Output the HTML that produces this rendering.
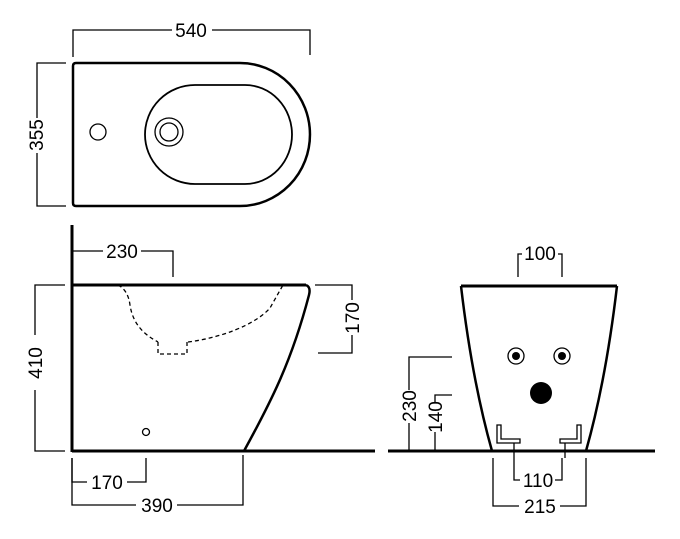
<!DOCTYPE html>
<html><head><style>body{margin:0;background:#fff}svg{display:block}text{font-family:"Liberation Sans",sans-serif;font-size:19px;fill:#000}</style></head>
<body>
<svg width="680" height="539" viewBox="0 0 680 539" xmlns="http://www.w3.org/2000/svg">
<g fill="none" stroke="#000" stroke-width="1.3">
<!-- top view -->
<path d="M76,63 H240 A70,71.5 0 0 1 240,206 H76 Q73,206 73,203 V66 Q73,63 76,63 Z" stroke-width="2.5"/>
<path d="M195,85 H245 A47,49.5 0 0 1 245,184 H195 A50,49.5 0 0 1 195,85 Z" stroke-width="1.8"/>
<circle cx="169" cy="132" r="14"/><circle cx="169" cy="132" r="9"/>
<circle cx="98" cy="132" r="8"/>
<path d="M73,57 V30 H172 M212,30 H310 V55"/>
<path d="M66,63 H37 V118 M37,153 V206 H66"/>
<!-- side view -->
<path d="M72,225 V452 M72,451 H375 M72,285 H306" stroke-width="3"/>
<path d="M306,285 Q311,287 309,295 C292,360 272,400 244,451" stroke-width="2.5"/>
<path d="M118,285 Q128,290 130,305 C133,325 145,335 158,342 M188,342 C220,338 255,325 270,308 L283,285 M158,342 V354 H187 V342" stroke-dasharray="4,3"/>
<circle cx="146" cy="432" r="3.5"/>
<path d="M72,251 H103 M141,251 H173 V277"/>
<path d="M65,285 H35 V335 M35,390 V451 H65"/>
<path d="M315,285 H352 V300 M352,335 V353 H318"/>
<path d="M72,458 V482 H87 M127,482 H146 V458"/>
<path d="M72,458 V505 H136 M177,505 H243 V455"/>
<!-- front view -->
<path d="M388,451 H655 M461,286 H617" stroke-width="3"/>
<path d="M461,286 Q472,380 492,451 M617,286 Q606,380 586,451" stroke-width="2.5"/>
<circle cx="516" cy="356" r="8"/><circle cx="562" cy="356" r="8"/>
<path d="M497,425 V443 H520 V439 H501 V425 Z M581,425 V443 H560 V439 H577 V425 Z"/>
<path d="M514,443 V458 M565,443 V458"/>
<path d="M518,277 V254 H522 M558,254 H562 V277"/>
<path d="M452,357 H409 V390 M409,423 V451"/>
<path d="M452,395 H435 V402 M435,432 V451"/>
<path d="M514,458 V480 H520 M555,480 H562 V458"/>
<path d="M493,458 V506 H519 M560,506 H586 V458"/>
</g>
<circle cx="516" cy="356" r="4"/><circle cx="562" cy="356" r="4"/>
<circle cx="541" cy="393" r="11"/>
<text x="191" y="37" text-anchor="middle">540</text>
<text transform="translate(43,135) rotate(-90)" text-anchor="middle">355</text>
<text x="122" y="258" text-anchor="middle">230</text>
<text transform="translate(42,363) rotate(-90)" text-anchor="middle">410</text>
<text transform="translate(359,318) rotate(-90)" text-anchor="middle">170</text>
<text x="107" y="489" text-anchor="middle">170</text>
<text x="157" y="512" text-anchor="middle">390</text>
<text x="540" y="260" text-anchor="middle">100</text>
<text transform="translate(416,406) rotate(-90)" text-anchor="middle">230</text>
<text transform="translate(442,417) rotate(-90)" text-anchor="middle">140</text>
<text x="538" y="487" text-anchor="middle">110</text>
<text x="540" y="513" text-anchor="middle">215</text>
</svg>
</body></html>
